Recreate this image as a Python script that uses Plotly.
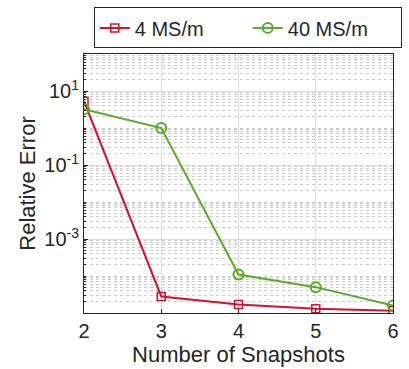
import plotly.graph_objects as go

snapshots = [2, 3, 4, 5, 6]
err_4ms = [5.3, 2.8e-5, 1.7e-5, 1.3e-5, 1.15e-5]
err_40ms = [3.2, 1.0, 1.1e-4, 5.0e-5, 1.6e-5]
series_names = ["4 MS/m", "40 MS/m"]
ytick_vals = [1e-3, 1e-1, 1e1]
ytick_text = ["10<sup>-3</sup>", "10<sup>-1</sup>", "10<sup>1</sup>"]

red = "#D2122E"
green = "#5BAA2B"

fig = go.Figure()
fig.add_trace(go.Scatter(x=snapshots, y=err_4ms, name=series_names[0], mode="lines+markers",
                         line=dict(color=red, width=2),
                         marker=dict(symbol="square-open", size=8, color=red, line=dict(width=1.5))))
fig.add_trace(go.Scatter(x=snapshots, y=err_40ms, name=series_names[1], mode="lines+markers",
                         line=dict(color=green, width=2),
                         marker=dict(symbol="circle-open", size=10, color=green, line=dict(width=2))))

minor_vals = []
for k in range(-5, 2):
    for m in range(1, 10):
        v = m * 10.0 ** k
        if v not in ytick_vals:
            minor_vals.append(v)
minor_vals.append(100.0)

font = "Liberation Sans, Arial, sans-serif"
fig.update_layout(
    width=409, height=369,
    margin=dict(l=84, r=7, t=52, b=56),
    paper_bgcolor="white", plot_bgcolor="white",
    font=dict(family=font, color="#262626", size=20),
    showlegend=True,
    legend=dict(orientation="h", x=0.53, y=1.18, xanchor="center", yanchor="top",
                bordercolor="#262626", borderwidth=1, font=dict(size=20),
                entrywidth=108, entrywidthmode="pixels", tracegroupgap=0),
    xaxis=dict(range=[2, 6], tickvals=[2, 3, 4, 5, 6], showgrid=True, gridcolor="#DDDDDD", gridwidth=1,
               showline=True, linecolor="#262626", linewidth=1, mirror=True, ticks="inside",
               ticklen=4, tickcolor="#262626", zeroline=False,
               title=dict(text="Number of Snapshots", font=dict(size=22), standoff=4),
               tickfont=dict(size=20)),
    yaxis=dict(type="log", range=[-5, 2], tickvals=ytick_vals, ticktext=ytick_text,
               showgrid=True, gridcolor="#DDDDDD", gridwidth=1,
               showline=True, linecolor="#262626", linewidth=1, mirror=True, ticks="inside",
               ticklen=4, tickcolor="#262626", zeroline=False,
               minor=dict(tickvals=minor_vals, showgrid=True, gridcolor="#CCCCCC", griddash="dot",
                          gridwidth=1, ticks="inside", ticklen=2, tickcolor="#262626"),
               title=dict(text="Relative Error", font=dict(size=22), standoff=2),
               tickfont=dict(size=20)),
)
fig.write_html("out.html")
